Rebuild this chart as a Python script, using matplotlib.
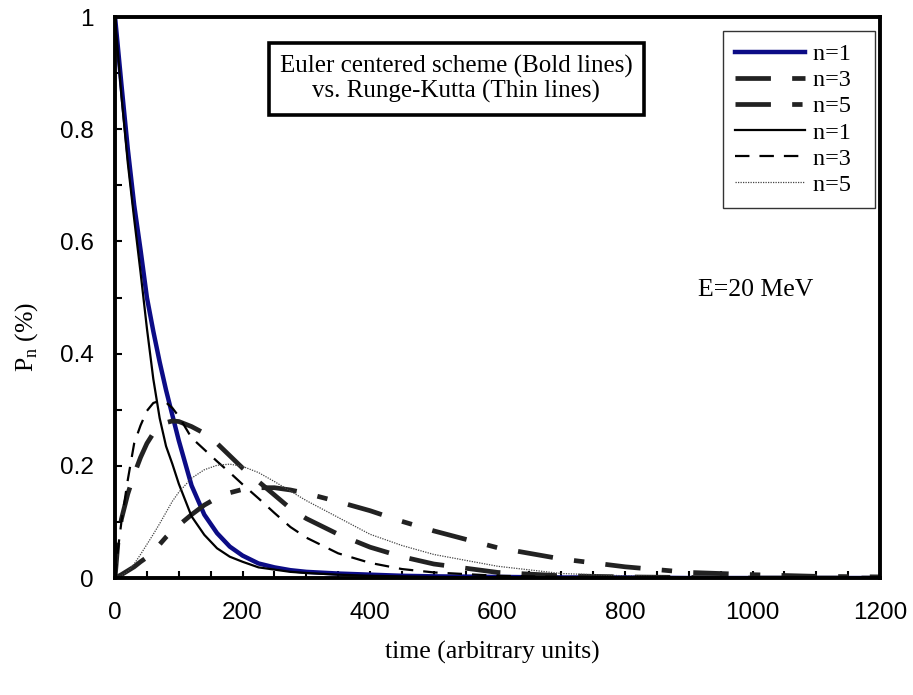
import matplotlib.pyplot as plt
from matplotlib.ticker import MultipleLocator, FuncFormatter

plt.rcParams['font.family'] = ['Liberation Sans', 'DejaVu Sans']
plt.rcParams['mathtext.fontset'] = 'custom'
plt.rcParams['mathtext.rm'] = 'Liberation Serif'
serif = ['Liberation Serif', 'DejaVu Serif']

# time grid (arbitrary units) and values
t = [0, 5, 10, 20, 30, 40, 50, 60, 70, 80, 90, 100, 120, 140, 160, 180, 200,
     225, 250, 275, 300, 350, 400, 450, 500, 600, 700, 800, 900, 1000, 1100, 1200]

# Euler centered scheme (bold)
euler_n1 = [1.0, 0.94, 0.88, 0.765, 0.665, 0.585, 0.50, 0.44, 0.385, 0.335, 0.29, 0.245,
            0.165, 0.113, 0.08, 0.056, 0.04, 0.026, 0.019, 0.014, 0.011, 0.008, 0.006,
            0.004, 0.003, 0.002, 0.001, 0.001, 0.0, 0.0, 0.0, 0.0]
euler_n3 = [0.0, 0.07, 0.105, 0.15, 0.185, 0.215, 0.24, 0.258, 0.27, 0.277, 0.28, 0.279,
            0.27, 0.258, 0.24, 0.218, 0.196, 0.172, 0.148, 0.124, 0.106, 0.078, 0.055,
            0.038, 0.025, 0.010, 0.004, 0.002, 0.001, 0.0, 0.0, 0.0]
euler_n5 = [0.0, 0.003, 0.006, 0.013, 0.02, 0.029, 0.037, 0.047, 0.06, 0.073, 0.084, 0.094,
            0.113, 0.13, 0.143, 0.152, 0.158, 0.161, 0.161, 0.157, 0.151, 0.136, 0.12,
            0.101, 0.084, 0.054, 0.034, 0.02, 0.01, 0.006, 0.003, 0.002]

# Runge-Kutta (thin)
rk_n1 = [1.0, 0.93, 0.86, 0.74, 0.64, 0.545, 0.445, 0.355, 0.285, 0.235, 0.203, 0.168,
         0.11, 0.077, 0.053, 0.038, 0.029, 0.019, 0.015, 0.011, 0.009, 0.006, 0.004,
         0.003, 0.002, 0.001, 0.0, 0.0, 0.0, 0.0, 0.0, 0.0]
rk_n3 = [0.0, 0.055, 0.10, 0.175, 0.24, 0.272, 0.298, 0.312, 0.316, 0.313, 0.303, 0.288,
         0.25, 0.229, 0.208, 0.188, 0.167, 0.142, 0.116, 0.091, 0.072, 0.044, 0.027,
         0.016, 0.010, 0.004, 0.002, 0.001, 0.0, 0.0, 0.0, 0.0]
rk_n5 = [0.0, 0.001, 0.004, 0.012, 0.025, 0.042, 0.06, 0.078, 0.097, 0.117, 0.137, 0.153,
         0.178, 0.193, 0.201, 0.203, 0.199, 0.188, 0.172, 0.155, 0.138, 0.108, 0.078,
         0.058, 0.042, 0.021, 0.008, 0.004, 0.002, 0.001, 0.0, 0.0]

fig = plt.figure(figsize=(9.13, 6.95), dpi=100)
ax = fig.add_axes([0.126, 0.1683, 0.838, 0.8072])

ax.plot(t, euler_n1, color='#0c0c86', lw=3.2, label='n=1  ')
ax.plot(t, euler_n3, color='#222222', lw=3.4, dashes=(7.5, 4.5), label='n=3  ')
ax.plot(t, euler_n5, color='#222222', lw=3.4, dashes=(7.5, 4.5, 2.2, 4.5), label='n=5  ')
ax.plot(t, rk_n1, color='black', lw=1.6, label='n=1  ')
ax.plot(t, rk_n3, color='black', lw=1.6, dashes=(6.5, 4.5), label='n=3  ')
ax.plot(t, rk_n5, color='#444444', lw=0.9, dashes=(1, 1), label='n=5  ')

ax.set_xlim(0, 1200)
ax.set_ylim(0, 1)
ax.xaxis.set_major_locator(MultipleLocator(200))
ax.xaxis.set_minor_locator(MultipleLocator(50))
ax.yaxis.set_major_locator(MultipleLocator(0.2))
ax.yaxis.set_minor_locator(MultipleLocator(0.1))
ax.yaxis.set_major_formatter(FuncFormatter(lambda v, p: f"{v:g}"))
ax.tick_params(which='both', direction='in', length=5, width=1.5, labelsize=17.5)
ax.tick_params(axis='y', pad=15.5)
ax.tick_params(axis='x', pad=17.5)
for s in ax.spines.values():
    s.set_linewidth(2.8)

leg = ax.legend(loc='upper right', bbox_to_anchor=(875 / 913, 1 - 31 / 695),
                bbox_transform=fig.transFigure, prop={'family': serif, 'size': 17.5},
                frameon=True, fancybox=False, handlelength=2.9, handletextpad=0.3,
                labelspacing=0.17, borderpad=0.5, borderaxespad=0)
leg.get_frame().set_edgecolor('black')
leg.get_frame().set_linewidth(1.0)

fig.text(280 / 913, 1 - 79 / 695, 'Euler centered scheme (Bold lines)\nvs. Runge-Kutta (Thin lines)',
         family=serif, fontsize=18, ha='left', va='center', multialignment='center',
         linespacing=1.15,
         bbox=dict(boxstyle='square,pad=0.45', fc='white', ec='black', lw=2.6))
fig.text(698 / 913, 1 - 290 / 695, 'E=20 MeV', family=serif, fontsize=18.5,
         ha='left', va='center')

fig.text(27 / 913, 1 - 337 / 695, r'P$_\mathregular{n}$ (%)', family=serif, fontsize=18.5,
         rotation=90, ha='center', va='center')
fig.text(492 / 913, 1 - 652 / 695, 'time (arbitrary units)', family=serif, fontsize=18.5,
         ha='center', va='center')

fig.savefig('out.png', dpi=100)
